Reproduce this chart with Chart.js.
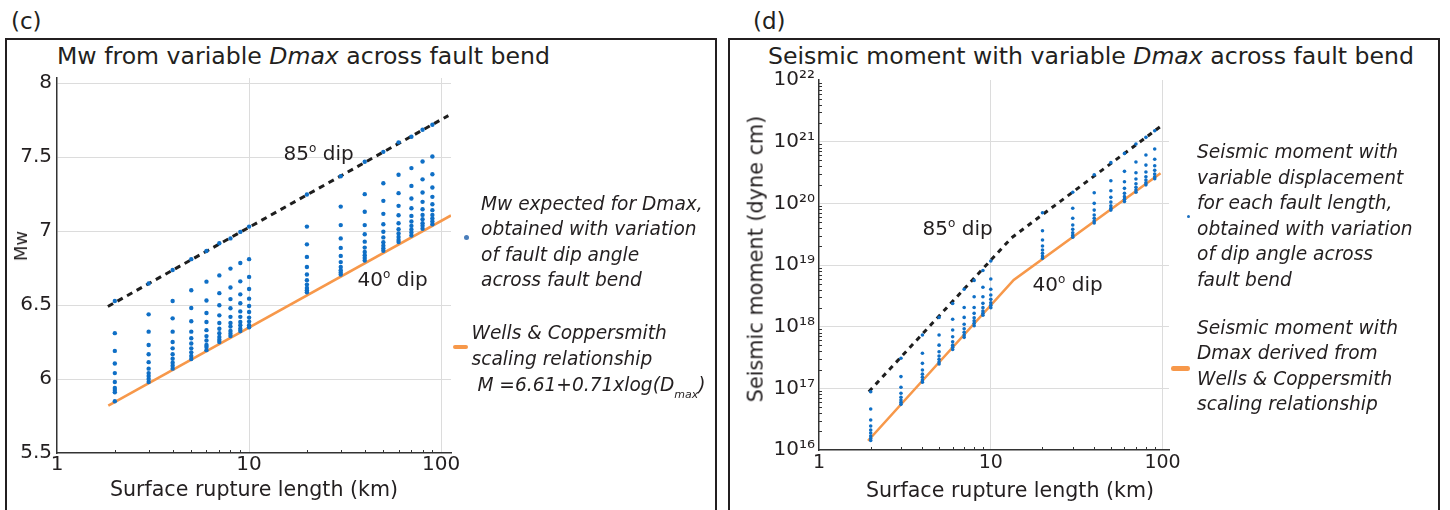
<!DOCTYPE html>
<html>
<head>
<meta charset="utf-8">
<script src="https://cdn.jsdelivr.net/npm/chart.js@4.4.1/dist/chart.umd.min.js"></script>
<style>
  html, body { margin: 0; padding: 0; background: #fff; }
  body { width: 1450px; height: 510px; position: relative; overflow: hidden;
         font-family: "DejaVu Sans", sans-serif; color: #231f20; }
  .box { position: absolute; top: 38px; width: 712px; height: 490px;
         border: 2px solid #231f20; box-sizing: border-box; }
  .t { position: absolute; white-space: pre; line-height: 1; }
  .rot { position: absolute; white-space: pre; line-height: 1;
         transform: translate(-50%, -50%) rotate(-90deg); }
  .xt { position: absolute; white-space: pre; line-height: 1; transform: translateX(-50%); }
  .leg { position: absolute; white-space: pre; font-style: italic; font-size: 18.6px; line-height: 25.4px; }
  .sup { font-size: 12px; vertical-align: 8px; }
  .sub { font-size: 11px; vertical-align: -7px; }
  .mark { position: absolute; }
  canvas { position: absolute; top: 0; }
</style>
</head>
<body>
<div class="box" style="left:5px"></div>
<div class="box" style="left:728px"></div>

<div class="t" style="left:11px;top:9.5px;font-size:23px">(c)</div>
<div class="t" style="left:753px;top:9.5px;font-size:23px">(d)</div>
<div class="t" style="left:57px;top:45px;font-size:23.6px">Mw from variable <i>Dmax</i> across fault bend</div>
<div class="t" style="left:768px;top:45px;font-size:23.6px">Seismic moment with variable <i>Dmax</i> across fault bend</div>

<canvas id="chartC" width="725" height="510" style="left:0"></canvas>
<canvas id="chartD" width="725" height="510" style="left:725px"></canvas>

<div class="rot" style="left:20.5px;top:246px;font-size:18px">Mw</div>
<div class="xt" style="left:254px;top:478.6px;font-size:20.6px">Surface rupture length (km)</div>
<div class="rot" style="left:755.5px;top:258.5px;font-size:20.8px">Seismic moment (dyne cm)</div>
<div class="xt" style="left:1010px;top:480.3px;font-size:20.6px">Surface rupture length (km)</div>

<div class="t" style="left:283.6px;top:142.1px;font-size:20px">85<span class="sup">o</span> dip</div>
<div class="t" style="left:357.6px;top:268.1px;font-size:20px">40<span class="sup">o</span> dip</div>
<div class="t" style="left:922.6px;top:217.1px;font-size:20px">85<span class="sup">o</span> dip</div>
<div class="t" style="left:1032.6px;top:273.1px;font-size:20px">40<span class="sup">o</span> dip</div>

<div class="mark" style="left:463.5px;top:235.2px;width:5px;height:5px;border-radius:50%;background:#4a7ebb"></div>
<div class="leg" style="left:481px;top:190.8px">Mw expected for Dmax,
obtained with variation
of fault dip angle
across fault bend</div>
<div class="mark" style="left:452.7px;top:344.5px;width:15.6px;height:4.5px;border-radius:2.3px;background:#f7984a"></div>
<div class="leg" style="left:471.5px;top:320.2px;line-height:25.7px">Wells &amp; Coppersmith
scaling relationship
 M =6.61+0.71xlog(D<span class="sub">max</span>)</div>

<div class="mark" style="left:1186.5px;top:214.9px;width:3.6px;height:3.6px;border-radius:50%;background:#1a6fc0"></div>
<div class="leg" style="left:1197px;top:139.1px;line-height:25.5px">Seismic moment with
variable displacement
for each fault length,
obtained with variation
of dip angle across
fault bend</div>
<div class="mark" style="left:1170.7px;top:366px;width:19.3px;height:4.5px;border-radius:2.3px;background:#f7984a"></div>
<div class="leg" style="left:1197px;top:314.8px;line-height:25.5px">Seismic moment with
Dmax derived from
Wells &amp; Coppersmith
scaling relationship</div>

<script>
// ---- panel (c): Mw ----
const lengthsKm = [2, 3, 4, 5, 6, 7, 8, 9, 10, 20, 30, 40, 50, 60, 70, 80, 90];
const mwByLength = [
  [6.527, 6.31, 6.19, 6.105, 6.04, 5.98, 5.94, 5.925, 5.91, 5.85],
  [6.645, 6.437, 6.32, 6.23, 6.167, 6.114, 6.07, 6.04, 6.02, 6.0, 5.98],
  [6.737, 6.527, 6.41, 6.32, 6.25, 6.207, 6.167, 6.137, 6.11, 6.09, 6.07],
  [6.81, 6.6, 6.48, 6.39, 6.32, 6.275, 6.24, 6.207, 6.18, 6.155, 6.135],
  [6.865, 6.658, 6.53, 6.446, 6.385, 6.33, 6.29, 6.26, 6.23, 6.216, 6.195],
  [6.917, 6.70, 6.58, 6.498, 6.43, 6.378, 6.34, 6.31, 6.284, 6.266, 6.25],
  [6.95, 6.746, 6.618, 6.54, 6.478, 6.42, 6.378, 6.354, 6.324, 6.306, 6.29],
  [6.994, 6.784, 6.66, 6.572, 6.512, 6.457, 6.42, 6.385, 6.363, 6.34, 6.324],
  [7.03, 6.81, 6.69, 6.608, 6.543, 6.493, 6.453, 6.415, 6.388, 6.363, 6.35],
  [7.247, 7.03, 6.91, 6.825, 6.757, 6.706, 6.667, 6.638, 6.615, 6.6, 6.586],
  [7.37, 7.165, 7.04, 6.95, 6.886, 6.832, 6.79, 6.757, 6.735, 6.72, 6.706],
  [7.468, 7.249, 7.13, 7.04, 6.978, 6.928, 6.888, 6.858, 6.836, 6.818, 6.80],
  [7.535, 7.323, 7.204, 7.116, 7.046, 6.995, 6.957, 6.924, 6.901, 6.883, 6.867],
  [7.599, 7.38, 7.256, 7.17, 7.107, 7.053, 7.012, 6.983, 6.96, 6.94, 6.925],
  [7.637, 7.425, 7.305, 7.22, 7.154, 7.102, 7.064, 7.035, 7.01, 6.99, 6.97],
  [7.684, 7.47, 7.349, 7.26, 7.197, 7.147, 7.109, 7.08, 7.053, 7.035, 7.015],
  [7.718, 7.504, 7.384, 7.294, 7.231, 7.181, 7.141, 7.109, 7.085, 7.064, 7.045]
];
const wcLineKm = [1.85, 112.5];
const wcLineMw = [5.82, 7.105];
const dip85LineKm = [1.84, 109];
const dip85LineMw = [6.49, 7.78];

// ---- panel (d): seismic moment, stored as log10(dyne cm) ----
const momentExpByLength = [
  [16.945, 16.665, 16.486, 16.389, 16.324, 16.276, 16.227, 16.187, 16.154],
  [17.487, 17.19, 17.017, 16.92, 16.855, 16.81, 16.773, 16.74],
  [17.865, 17.568, 17.405, 17.297, 17.23, 17.18, 17.135, 17.10],
  [18.15, 17.865, 17.70, 17.594, 17.524, 17.47, 17.427, 17.394],
  [18.376, 18.12, 17.946, 17.837, 17.756, 17.70, 17.665, 17.63],
  [18.606, 18.31, 18.15, 18.04, 17.967, 17.908, 17.865, 17.827],
  [18.75, 18.486, 18.31, 18.216, 18.145, 18.097, 18.054, 18.016],
  [18.91, 18.638, 18.486, 18.378, 18.308, 18.254, 18.216, 18.184],
  [19.065, 18.773, 18.606, 18.513, 18.443, 18.389, 18.346, 18.308],
  [19.848, 19.556, 19.405, 19.308, 19.243, 19.189, 19.146, 19.108],
  [20.18, 19.92, 19.757, 19.648, 19.578, 19.524, 19.48, 19.449],
  [20.464, 20.172, 20.0, 19.89, 19.81, 19.757, 19.713, 19.68],
  [20.66, 20.367, 20.205, 20.097, 20.02, 19.96, 19.92, 19.89],
  [20.81, 20.519, 20.35, 20.243, 20.162, 20.108, 20.065, 20.03],
  [20.962, 20.67, 20.497, 20.394, 20.318, 20.259, 20.216, 20.18],
  [21.07, 20.784, 20.62, 20.508, 20.432, 20.378, 20.335, 20.30],
  [21.178, 20.881, 20.714, 20.61, 20.535, 20.475, 20.432, 20.40]
];
const wcMomentKm = [1.93, 13.6, 97.3];
const wcMomentExp = [16.15, 18.757, 20.487];
const dip85MomentKm = [1.95, 13.2, 98.7];
const dip85MomentExp = [16.945, 19.44, 21.26];

// ---- axis ticks ----
const majorKm = [1, 10, 100];
const minorKm = [2, 3, 4, 5, 6, 7, 8, 9, 20, 30, 40, 50, 60, 70, 80, 90];
const mwTicks = [5.5, 6, 6.5, 7, 7.5, 8];
const momentExpTicks = [16, 17, 18, 19, 20, 21, 22];

const blue = "#0f6fc6";
const orange = "#f7984a";
const gridGrey = "#dcdcdc";
const axisColor = "#333333";

Chart.defaults.font.family = '"DejaVu Sans", sans-serif';
Chart.defaults.color = "#231f20";

const supDigits = "⁰¹²³⁴⁵⁶⁷⁸⁹";
const toSup = (n) => String(n).split("").map((d) => supDigits[+d]).join("");

const minorTicks = {
  id: "minorTicks",
  afterDraw(chart, args, opts) {
    const { ctx, chartArea: a, scales } = chart;
    ctx.save();
    ctx.strokeStyle = axisColor;
    ctx.lineWidth = 1;
    ctx.beginPath();
    (opts.x || []).forEach((v) => {
      const px = Math.round(scales.x.getPixelForValue(v)) + 0.5;
      ctx.moveTo(px, a.bottom);
      ctx.lineTo(px, a.bottom - opts.len);
    });
    (opts.y || []).forEach((v) => {
      const py = Math.round(scales.y.getPixelForValue(v)) + 0.5;
      ctx.moveTo(a.left, py);
      ctx.lineTo(a.left + opts.len, py);
    });
    ctx.stroke();
    ctx.restore();
  },
};

const pairs = (xs, ys) => xs.map((x, i) => ({ x: x, y: ys[i] }));

// panel (c) chart
const mwPoints = [];
lengthsKm.forEach((km, i) => mwByLength[i].forEach((mw) => mwPoints.push({ x: km, y: mw })));

new Chart(document.getElementById("chartC"), {
  type: "scatter",
  data: {
    datasets: [
      { data: mwPoints, pointRadius: 2.2, pointBorderWidth: 0, pointBackgroundColor: blue },
      { data: pairs(wcLineKm, wcLineMw), showLine: true, borderColor: orange, borderWidth: 2.6, pointRadius: 0 },
      { data: pairs(dip85LineKm, dip85LineMw), showLine: true, borderColor: "#1e1e1e", borderWidth: 3,
        borderDash: [6, 5], pointRadius: 0 },
    ],
  },
  options: {
    responsive: false,
    animation: false,
    devicePixelRatio: 1,
    layout: { padding: { left: 0, top: 78, right: 274, bottom: 0 } },
    plugins: {
      legend: { display: false },
      tooltip: { enabled: false },
      minorTicks: { x: minorKm, len: 3 },
    },
    scales: {
      x: {
        type: "logarithmic",
        min: 1,
        max: 112.5,
        afterBuildTicks: (s) => { s.ticks = majorKm.map((v) => ({ value: v })); },
        afterFit: (s) => { s.height = 57; },
        grid: { color: (c) => (c.tick && c.tick.value === 1 ? "rgba(0,0,0,0)" : gridGrey), drawTicks: false },
        border: { color: axisColor, width: 1.5 },
        ticks: { font: { size: 20 }, padding: 0, autoSkip: false, maxRotation: 0, callback: (v) => String(v) },
      },
      y: {
        type: "linear",
        min: 5.5,
        max: 8.034,
        afterBuildTicks: (s) => { s.ticks = mwTicks.map((v) => ({ value: v })); },
        afterFit: (s) => { s.width = 57; },
        grid: { color: (c) => (c.tick && c.tick.value === 5.5 ? "rgba(0,0,0,0)" : gridGrey), drawTicks: false },
        border: { color: axisColor, width: 1.5 },
        ticks: { font: { size: 20 }, padding: 5, callback: (v) => String(v) },
      },
    },
  },
  plugins: [minorTicks],
});

// panel (d) chart
const momentPoints = [];
lengthsKm.forEach((km, i) => momentExpByLength[i].forEach((e) => momentPoints.push({ x: km, y: 10 ** e })));
const minorMoment = [];
momentExpTicks.slice(0, -1).forEach((e) => {
  for (let m = 2; m <= 9; m++) minorMoment.push(m * 10 ** e);
});

new Chart(document.getElementById("chartD"), {
  type: "scatter",
  data: {
    datasets: [
      { data: momentPoints, pointRadius: 1.8, pointBorderWidth: 0, pointBackgroundColor: blue },
      { data: pairs(wcMomentKm, wcMomentExp.map((e) => 10 ** e)), showLine: true, borderColor: orange,
        borderWidth: 2.6, pointRadius: 0 },
      { data: pairs(dip85MomentKm, dip85MomentExp.map((e) => 10 ** e)), showLine: true, borderColor: "#1e1e1e",
        borderWidth: 3, borderDash: [5, 5], pointRadius: 0 },
    ],
  },
  options: {
    responsive: false,
    animation: false,
    devicePixelRatio: 1,
    layout: { padding: { left: 0, top: 80, right: 281, bottom: 0 } },
    plugins: {
      legend: { display: false },
      tooltip: { enabled: false },
      minorTicks: { x: minorKm, y: minorMoment, len: 3 },
    },
    scales: {
      x: {
        type: "logarithmic",
        min: 1,
        max: 109,
        afterBuildTicks: (s) => { s.ticks = majorKm.map((v) => ({ value: v })); },
        afterFit: (s) => { s.height = 60; },
        grid: { color: (c) => (c.tick && c.tick.value === 1 ? "rgba(0,0,0,0)" : gridGrey), drawTicks: false },
        border: { color: axisColor, width: 1.5 },
        ticks: { font: { size: 19 }, padding: 2, autoSkip: false, maxRotation: 0, callback: (v) => String(v) },
      },
      y: {
        type: "logarithmic",
        min: 1e16,
        max: 1e22,
        afterBuildTicks: (s) => { s.ticks = momentExpTicks.map((e) => ({ value: 10 ** e })); },
        afterFit: (s) => { s.width = 94; },
        grid: {
          color: (c) => (c.tick && (c.tick.value <= 1e16 * 1.01 || c.tick.value >= 1e22 * 0.99) ? "rgba(0,0,0,0)" : gridGrey),
          drawTicks: false,
        },
        border: { color: axisColor, width: 1.5 },
        ticks: { font: { size: 20 }, padding: 4, autoSkip: false,
                 callback: (v) => "10" + toSup(Math.round(Math.log10(v))) },
      },
    },
  },
  plugins: [minorTicks],
});
</script>
</body>
</html>
